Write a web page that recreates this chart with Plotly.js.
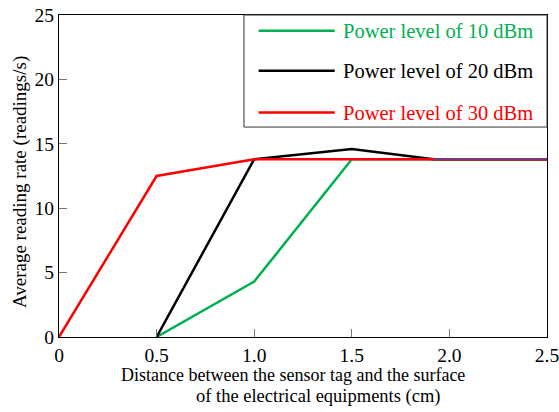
<!DOCTYPE html>
<html>
<head>
<meta charset="utf-8">
<script src="https://cdn.plot.ly/plotly-3.0.1.min.js"></script>
<style>html,body{margin:0;padding:0;background:#fff;}</style>
</head>
<body>
<div id="chart" style="width:559px;height:412px;"></div>
<script>
const x10 = [0.5, 1.0, 1.5, 2.5];
const y10 = [0, 4.3, 13.8, 13.8];
const x20 = [0.5, 1.0, 1.5, 1.92, 2.5];
const y20 = [0, 13.8, 14.6, 13.8, 13.8];
const x30 = [0, 0.5, 1.0, 2.5];
const y30 = [0, 12.5, 13.8, 13.8];
const xTail = [1.92, 2.5];
const yTail = [13.8, 13.8];
const names = ['Power level of 10 dBm', 'Power level of 20 dBm', 'Power level of 30 dBm'];
const xTicks = [0, 0.5, 1.0, 1.5, 2.0, 2.5];
const xTickText = ['0', '0.5', '1.0', '1.5', '2.0', '2.5'];
const yTicks = [0, 5, 10, 15, 20, 25];
const xTitleLines = ['Distance between the sensor tag and the surface', 'of the electrical equipments (cm)'];
const yTitle = 'Average reading rate (readings/s)';

const font = '"Liberation Serif", "Times New Roman", Times, "DejaVu Serif", serif';
const traces = [
  {x: x10, y: y10, mode: 'lines', name: names[0], line: {color: '#00b050', width: 2.5}, showlegend: false},
  {x: x20, y: y20, mode: 'lines', name: names[1], line: {color: '#000000', width: 2.5}, showlegend: false},
  {x: x30, y: y30, mode: 'lines', name: names[2], line: {color: '#ff0000', width: 2.5}, showlegend: false},
  {x: xTail, y: yTail, mode: 'lines', line: {color: '#4b4b9b', width: 1.3}, showlegend: false, hoverinfo: 'skip'}
];

const legColors = ['#00b050', '#000000', '#ff0000'];
const legY = [0.951, 0.827, 0.697];
const shapes = [
  {type: 'rect', xref: 'paper', yref: 'paper', x0: 0.379, x1: 1.0, y0: 0.652, y1: 1.0, line: {color: '#333', width: 1}, fillcolor: 'rgba(0,0,0,0)'}
];
const annotations = [];
for (let i = 0; i < 3; i++) {
  shapes.push({type: 'line', xref: 'paper', yref: 'paper', x0: 0.409, x1: 0.565, y0: legY[i], y1: legY[i], line: {color: legColors[i], width: 2.5}});
  annotations.push({xref: 'paper', yref: 'paper', x: 0.578, y: legY[i], xanchor: 'left', yanchor: 'middle', text: names[i], showarrow: false, font: {family: font, size: 20.5, color: legColors[i]}});
}
annotations.push({xref: 'paper', yref: 'paper', x: 0.4785, y: -0.118, xanchor: 'center', yanchor: 'middle', text: xTitleLines[0], showarrow: false, font: {family: font, size: 18, color: '#000'}});
annotations.push({xref: 'paper', yref: 'paper', x: 0.5318, y: -0.186, xanchor: 'center', yanchor: 'middle', text: xTitleLines[1], showarrow: false, font: {family: font, size: 18.5, color: '#000'}});
annotations.push({xref: 'paper', yref: 'paper', x: -0.08, y: 0.481, xanchor: 'center', yanchor: 'middle', textangle: -90, text: yTitle, showarrow: false, font: {family: font, size: 19, color: '#000'}});

const layout = {
  width: 559, height: 412,
  margin: {l: 59, r: 12, t: 15, b: 75},
  paper_bgcolor: '#fff', plot_bgcolor: '#fff',
  font: {family: font, size: 19, color: '#000'},
  xaxis: {
    range: [0, 2.5], tickvals: xTicks, ticktext: xTickText,
    ticks: 'inside', ticklen: 8, tickcolor: '#777', tickwidth: 1.2,
    showgrid: false, zeroline: false, ticklabeloverflow: 'allow',
    showline: true, linecolor: '#000', linewidth: 1.2, mirror: true,
    tickfont: {family: font, size: 19.5, color: '#000'}
  },
  yaxis: {
    range: [0, 25], tickvals: yTicks,
    ticks: 'inside', ticklen: 8, tickcolor: '#777', tickwidth: 1.2,
    showgrid: false, zeroline: false, ticklabeloverflow: 'allow',
    showline: true, linecolor: '#000', linewidth: 1.2, mirror: true,
    tickfont: {family: font, size: 19.5, color: '#000'}
  },
  shapes: shapes,
  annotations: annotations,
  showlegend: false
};

Plotly.newPlot('chart', traces, layout, {displayModeBar: false, staticPlot: true});
</script>
</body>
</html>
